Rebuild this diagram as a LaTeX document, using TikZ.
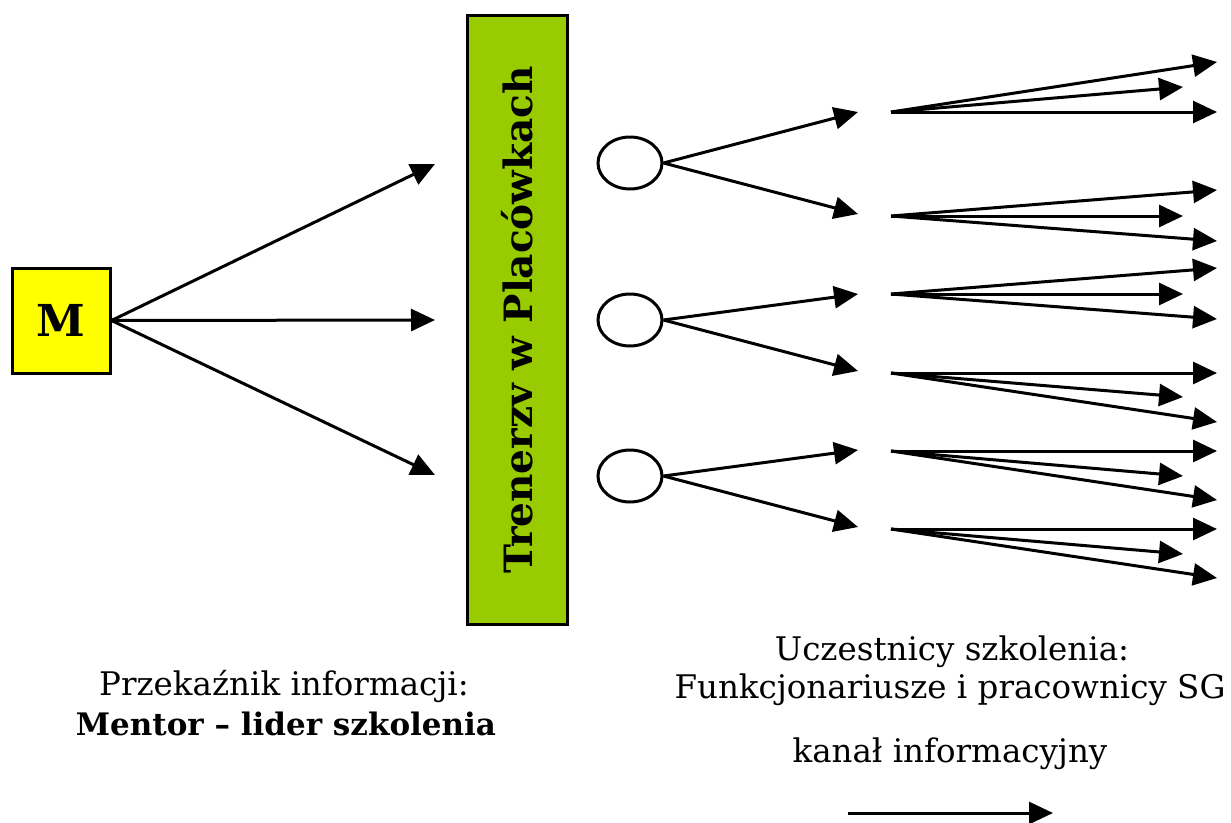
\documentclass[tikz,border=0pt]{standalone}
\usepackage{fontspec}
\setmainfont{DejaVu Serif}
\usetikzlibrary{shapes.geometric,arrows.meta}

\tikzset{
  flow/.style={line width=3pt, -{Triangle[length=24pt,width=22pt]}},
  mbox/.style={draw, line width=3pt, fill={rgb,255:red,255;green,255;blue,0},
    minimum width=98pt, minimum height=105pt, inner sep=0pt,
    font=\fontsize{44}{48}\selectfont\bfseries},
  tbox/.style={draw, line width=3pt, fill={rgb,255:red,153;green,204;blue,0},
    rotate=90, minimum width=609pt, minimum height=100pt, inner sep=0pt,
    font=\fontsize{39}{44}\selectfont\bfseries},
  hub/.style={draw, ellipse, line width=3pt, fill=white,
    minimum width=64pt, minimum height=52pt, inner sep=0pt},
  caption/.style={anchor=base, inner sep=0pt, font=\fontsize{32.5}{38}\selectfont}
}

\begin{document}
\begin{tikzpicture}[x=1pt, y=-1pt]
  \useasboundingbox (0,0) rectangle (1231,822);

  % mentor and trainer block
  \node[mbox] (M) at (61,320.5) {M};
  \node[tbox] (T) at (517,320) {Trenerzv w Placówkach};

  % mentor → trainers
  \coordinate (m1) at (435,164);
  \coordinate (m2) at (435,320);
  \coordinate (m3) at (435,475);
  \foreach \k in {1,2,3} \draw[flow] (M.east) -- (m\k);

  % trainers in the units
  \node[hub] (h1) at (630,163) {};
  \node[hub] (h2) at (630,320) {};
  \node[hub] (h3) at (630,476) {};

  \coordinate (a1) at (858,112);
  \coordinate (a2) at (858,214);
  \coordinate (b1) at (858,294);
  \coordinate (b2) at (858,371);
  \coordinate (c1) at (858,450);
  \coordinate (c2) at (858,527);
  \draw[flow] (h1.east) -- (a1);
  \draw[flow] (h1.east) -- (a2);
  \draw[flow] (h2.east) -- (b1);
  \draw[flow] (h2.east) -- (b2);
  \draw[flow] (h3.east) -- (c1);
  \draw[flow] (h3.east) -- (c2);

  % fans out to the participants: source y / long tip / short tip / long tip
  \foreach \i/\y/\p/\q/\r in {1/112/62/87/112, 2/216/190/216/241,
                              3/294/268/294/319, 4/373/373/397/422,
                              5/451/451/476/500, 6/529/529/554/578} {
    \coordinate (f\i) at (891,\y);
    \coordinate (f\i p) at (1217,\p);
    \coordinate (f\i q) at (1183,\q);
    \coordinate (f\i r) at (1217,\r);
    \draw[flow] (f\i) -- (f\i p);
    \draw[flow] (f\i) -- (f\i q);
    \draw[flow] (f\i) -- (f\i r);
  }

  % captions
  \node[caption] (cap1) at (284,695) {Przekaźnik informacji:};
  \node[caption, font=\fontsize{31}{36}\selectfont\bfseries] (cap2) at (286,735) {Mentor – lider szkolenia};
  \node[caption] (cap3) at (952,660) {Uczestnicy szkolenia:};
  \node[caption] (cap4) at (950,698) {Funkcjonariusze i pracownicy SG};
  \node[caption] (cap5) at (950,762) {kanał informacyjny};

  % legend
  \coordinate (l1) at (848,813);
  \coordinate (l2) at (1053,813);
  \draw[flow] (l1) -- (l2);
\end{tikzpicture}
\end{document}
